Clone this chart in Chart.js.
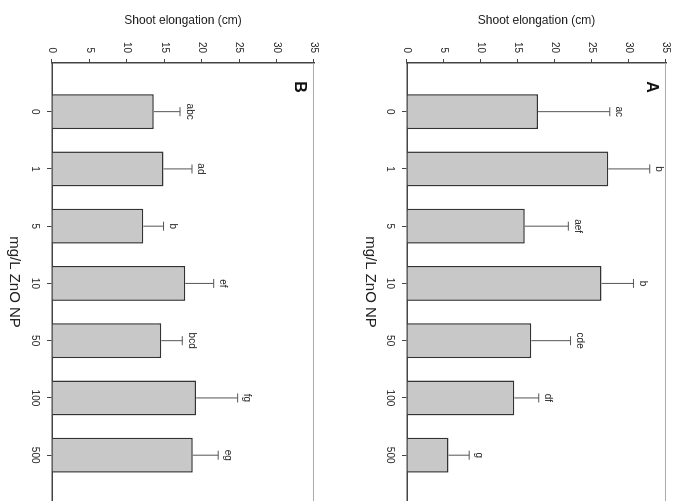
<!DOCTYPE html>
<html>
<head>
<meta charset="utf-8">
<script src="https://cdn.jsdelivr.net/npm/chart.js@4/dist/chart.umd.min.js"></script>
<style>
  html, body { margin: 0; padding: 0; background: #fff; overflow: hidden; }
  body { width: 678px; height: 501px; position: relative; }
  /* figure is drawn upright, then turned a quarter clockwise like the scan */
  #figure {
    position: absolute; left: 0; top: 0;
    width: 501px; height: 678px;
    transform-origin: 0 0;
    transform: translate(678px, 0) rotate(90deg);
  }
  canvas { display: block; }
</style>
</head>
<body>
<div id="figure">
  <canvas id="chartA" width="501" height="322"></canvas>
  <canvas id="chartB" width="501" height="356"></canvas>
</div>
<script>
const doses = ['0', '1', '5', '10', '50', '100', '500'];

const shootA = [17.7, 27.2, 15.9, 26.3, 16.8, 14.5, 5.6];
const errA = [9.7, 5.6, 5.9, 4.3, 5.3, 3.3, 2.8];
const lettersA = ['ac', 'b', 'aef', 'b', 'cde', 'df', 'g'];

const shootB = [13.6, 14.9, 12.2, 17.8, 14.6, 19.25, 18.8];
const errB = [3.5, 3.8, 2.7, 3.8, 2.8, 5.55, 3.4];
const lettersB = ['abc', 'ad', 'b', 'ef', 'bcd', 'fg', 'eg'];

const yTitle = 'Shoot elongation (cm)';
const xTitle = 'mg/L ZnO NP';

const FONT = "'Liberation Sans', Arial, sans-serif";

// upper error bar + significance letters
const errorBars = {
    id: 'errorBars',
    afterDatasetsDraw(chart, args, opts) {
        const ctx = chart.ctx;
        const yScale = chart.scales.y;
        const points = chart.data.datasets[0].data;
        chart.getDatasetMeta(0).data.forEach((bar, i) => {
            const top = yScale.getPixelForValue(points[i].y + opts.err[i]);
            ctx.save();
            ctx.strokeStyle = '#555';
            ctx.lineWidth = 1;
            ctx.beginPath();
            ctx.moveTo(bar.x, bar.y);
            ctx.lineTo(bar.x, top);
            ctx.moveTo(bar.x - 4.5, top);
            ctx.lineTo(bar.x + 4.5, top);
            ctx.stroke();
            ctx.fillStyle = '#222';
            ctx.font = '10px ' + FONT;
            ctx.textAlign = 'center';
            ctx.textBaseline = 'alphabetic';
            ctx.fillText(opts.letters[i], bar.x, top - 6.5);
            ctx.restore();
        });
    }
};

// light frame line on the far side of the plot + panel letter
const panelDecor = {
    id: 'panelDecor',
    afterDraw(chart, args, opts) {
        const ctx = chart.ctx;
        const area = chart.chartArea;
        ctx.save();
        ctx.strokeStyle = '#aaa';
        ctx.lineWidth = 1;
        ctx.beginPath();
        ctx.moveTo(area.left, area.top + 0.5);
        ctx.lineTo(area.right, area.top + 0.5);
        ctx.stroke();
        ctx.fillStyle = '#111';
        ctx.font = 'bold 16px ' + FONT;
        ctx.textAlign = 'center';
        ctx.textBaseline = 'middle';
        ctx.fillText(opts.text, area.left + 24, area.top + 15);
        ctx.restore();
    }
};

function makePanel(canvasId, values, errors, letters, panel, padTop, xHeight) {
    const points = values.map((v, i) => ({ x: i, y: v }));
    return new Chart(document.getElementById(canvasId), {
        type: 'bar',
        data: {
            datasets: [{
                data: points,
                backgroundColor: '#c8c8c8',
                borderColor: '#333',
                borderWidth: 1.5,
                borderSkipped: 'bottom',
                categoryPercentage: 1,
                barPercentage: 0.61
            }]
        },
        plugins: [errorBars, panelDecor],
        options: {
            responsive: false,
            animation: false,
            devicePixelRatio: 1,
            layout: { padding: { top: padTop, left: 0, right: 0, bottom: 0 } },
            plugins: {
                legend: { display: false },
                tooltip: { enabled: false },
                errorBars: { err: errors, letters: letters },
                panelDecor: { text: panel }
            },
            scales: {
                x: {
                    type: 'linear',
                    bounds: 'data',
                    offset: false,
                    min: -0.85,
                    max: 6.8,
                    afterBuildTicks: axis => {
                        axis.ticks = doses.map((d, i) => ({ value: i }));
                    },
                    afterFit: axis => { axis.height = xHeight; },
                    ticks: {
                        callback: v => doses[v],
                        font: { family: FONT, size: 10 },
                        color: '#222',
                        padding: 6,
                        maxRotation: 0,
                        autoSkip: false
                    },
                    grid: {
                        offset: false,
                        drawOnChartArea: false,
                        drawTicks: true,
                        tickLength: 5,
                        tickColor: '#444'
                    },
                    border: { color: '#444', width: 1.5 },
                    title: {
                        display: true,
                        text: xTitle,
                        font: { family: FONT, size: 15 },
                        color: '#222',
                        padding: { top: 4, bottom: 5 }
                    }
                },
                y: {
                    min: 0,
                    max: 35,
                    afterFit: axis => { axis.width = 63; },
                    ticks: {
                        stepSize: 5,
                        font: { family: FONT, size: 10 },
                        color: '#222',
                        padding: 6
                    },
                    grid: {
                        drawOnChartArea: false,
                        drawTicks: true,
                        tickLength: 4,
                        tickColor: '#444'
                    },
                    border: { color: '#444', width: 1.5 },
                    title: {
                        display: true,
                        text: yTitle,
                        font: { family: FONT, size: 12 },
                        color: '#222',
                        padding: { top: 13, bottom: 4 }
                    }
                }
            }
        }
    });
}

makePanel('chartA', shootA, errA, lettersA, 'A', 10, 51);
makePanel('chartB', shootB, errB, lettersB, 'B', 42, 52);
</script>
</body>
</html>
